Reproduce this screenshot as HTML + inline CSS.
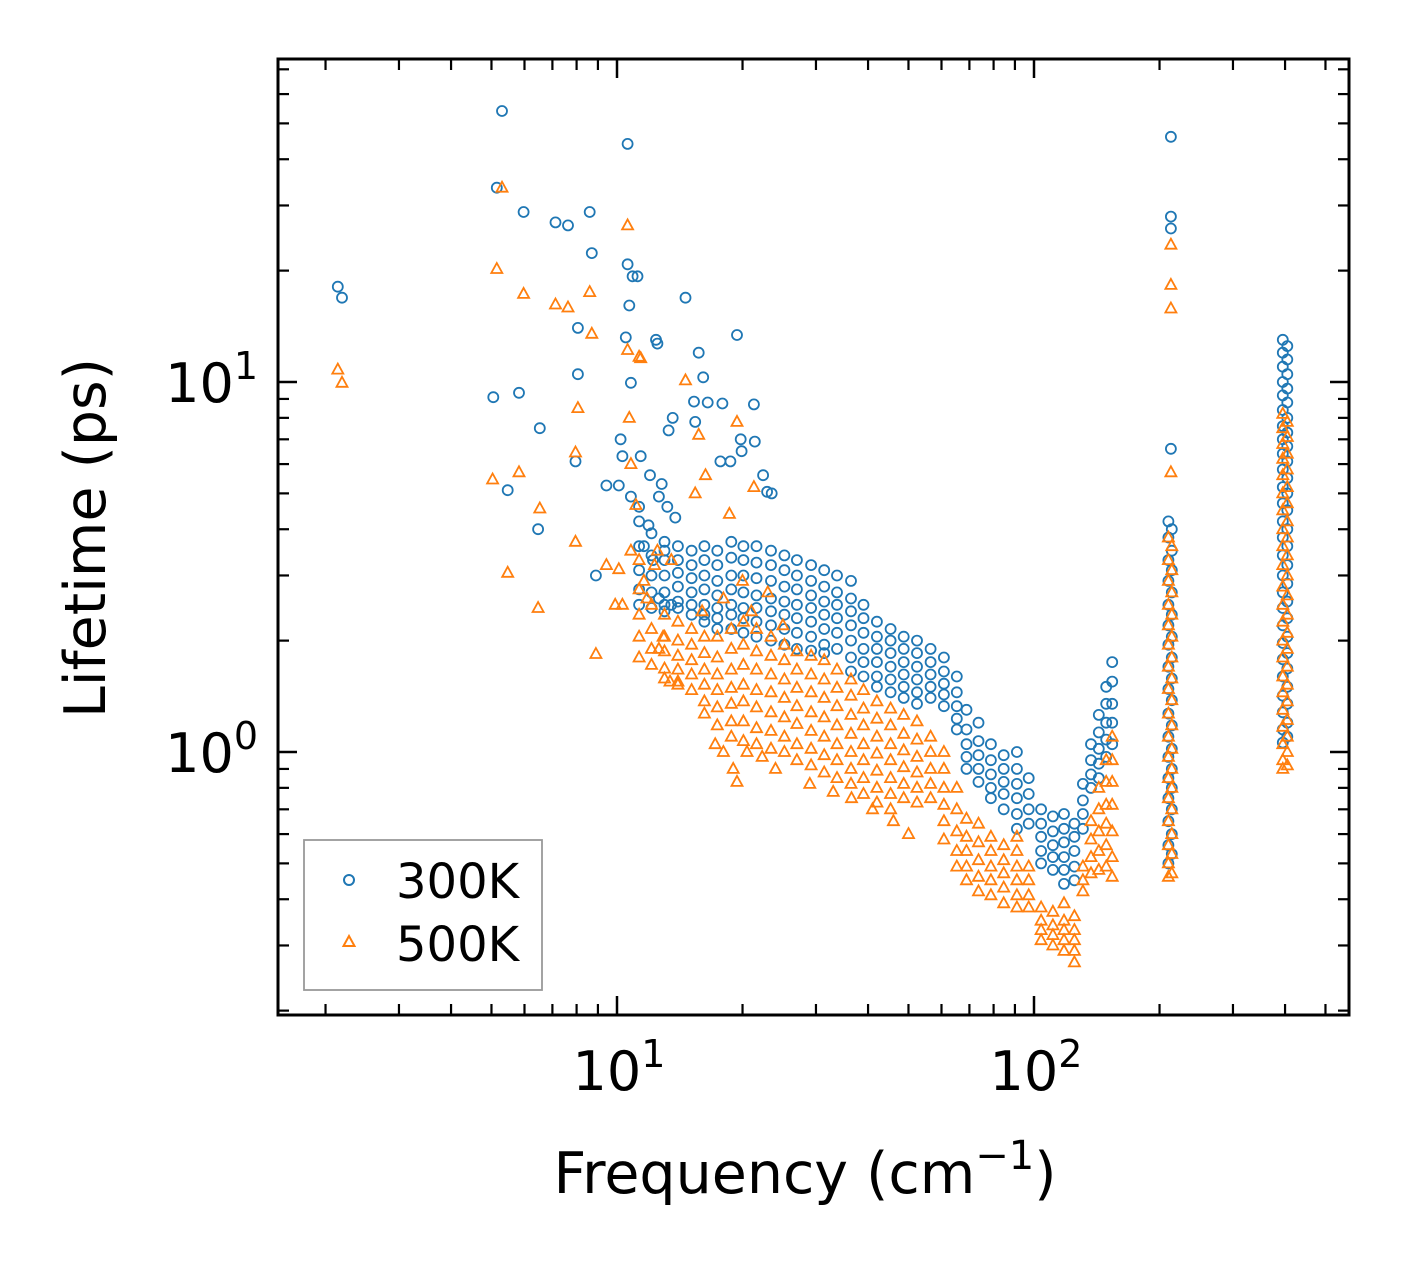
<!DOCTYPE html>
<html><head><meta charset="utf-8"><style>
html,body{margin:0;padding:0;background:#fff;}
svg{display:block;font-family:"DejaVu Sans","Liberation Sans",sans-serif;}
</style></head><body>
<svg id="chart" width="1408" height="1265" viewBox="0 0 1408 1265" xmlns="http://www.w3.org/2000/svg">
<rect x="0" y="0" width="1408" height="1265" fill="#fff"/>
<g id="marks"></g>
<g id="axes"></g>
<text x="805" y="1193" font-size="57" text-anchor="middle">Frequency (cm<tspan dy="-24" font-size="40">−1</tspan><tspan dy="24">)</tspan></text>
<text transform="translate(105,538) rotate(-90)" font-size="57" text-anchor="middle">Lifetime (ps)</text>
<g>
<rect x="304" y="840" width="238" height="150" fill="#fff" stroke="#999" stroke-width="1.8"/>
<circle cx="349" cy="880" r="5" fill="none" stroke="#1f77b4" stroke-width="2"/>
<text x="396" y="898" font-size="48">300K</text>
<path d="M349,936 L354.5,946 L343.5,946 Z" fill="none" stroke="#ff7f0e" stroke-width="2"/>
<text x="396" y="961" font-size="48">500K</text>
</g>
</svg>
<script>
const blueColFreq = [11.3,12.1,13.0,14.0,15.1,16.2,17.4,18.8,20.1,21.6,23.4,25.2,27.0,29.2,31.4,33.7,36.4,39.0,42.0,45.3,48.7,52.4,56.5,60.8,65.3,68.9,73.6,78.8,84.6,91.0,97.1,104,111,118,125,131,137,143,149,154,210,214,395,405];
const blueColLife = [
[4.2,3.6,3.1,2.75,2.5],[3.9,3.4,3.0,2.7,2.45],[3.7,3.3,3.0,2.7,2.5,2.4],[3.6,3.3,3.05,2.8,2.55,2.45],
[3.5,3.2,2.95,2.7,2.5,2.35],[3.6,3.3,3.0,2.75,2.5,2.35,2.25],[3.5,3.2,2.9,2.65,2.45,2.3,2.15],[3.7,3.35,3.0,2.75,2.5,2.35,2.15],
[3.6,3.3,3.0,2.7,2.45,2.3,2.1],[3.6,3.25,2.95,2.65,2.45,2.25,2.05],[3.5,3.2,2.9,2.6,2.4,2.2,2.0],[3.4,3.1,2.8,2.55,2.35,2.15,1.95],
[3.3,3.0,2.75,2.5,2.3,2.1,1.9],[3.2,2.9,2.65,2.45,2.25,2.05,1.88],[3.1,2.8,2.55,2.35,2.15,1.95,1.85],[3.0,2.7,2.5,2.3,2.1,1.9],
[2.9,2.6,2.4,2.2,2.0,1.8,1.65],[2.5,2.3,2.1,1.9,1.75,1.6],[2.25,2.05,1.9,1.75,1.6,1.5],[2.15,2.0,1.85,1.7,1.57,1.45],
[2.05,1.9,1.75,1.62,1.5,1.4],[2.0,1.85,1.7,1.57,1.45,1.35],[1.9,1.75,1.62,1.5,1.4],[1.8,1.65,1.53,1.43,1.33],
[1.6,1.45,1.33,1.23,1.15],[1.3,1.15,1.05,0.97,0.9],[1.2,1.07,0.98,0.9,0.83],[1.05,0.95,0.87,0.8,0.75],
[0.98,0.9,0.83,0.77,0.7],[1.0,0.9,0.82,0.75,0.68,0.62],[0.85,0.77,0.7,0.64],[0.7,0.64,0.59,0.54,0.5],
[0.67,0.61,0.56,0.52,0.48],[0.68,0.62,0.57,0.52,0.48,0.44],[0.64,0.59,0.54,0.49,0.45],[0.82,0.74,0.68,0.62],
[1.05,0.95,0.87,0.8],[1.26,1.13,1.02,0.93,0.85],[1.5,1.35,1.2,1.08,0.97],[1.75,1.55,1.35,1.2,1.05],
[4.2,3.8,3.3,2.9,2.5,2.2,1.95,1.7,1.48,1.27,1.1,0.97,0.85,0.75,0.65,0.56,0.5],
[4.0,3.5,3.1,2.7,2.35,2.05,1.8,1.58,1.38,1.18,1.02,0.9,0.8,0.7,0.6,0.53],
[13,12,11,10,9.2,8.4,7.6,7.0,6.4,5.8,5.2,4.7,4.2,3.8,3.4,3.0,2.7,2.45,2.2,1.97,1.78,1.6,1.42,1.28,1.15,1.06],
[12.5,11.5,10.5,9.6,8.8,8.0,7.3,6.7,6.1,5.5,5.0,4.5,4.0,3.6,3.2,2.85,2.55,2.3,2.05,1.85,1.68,1.5,1.35,1.2,1.1]
];
const blueOutFreq = [2.14,2.19,5.3,5.15,5.05,5.47,5.82,5.97,6.53,6.47,7.12,7.63,8.06,8.06,7.95,8.6,8.7,8.9,9.43,10.1,10.6,10.6,10.9,11.2,10.7,10.5,10.8,10.2,10.3,12.4,12.5,15.7,14.6,19.4,16.1,15.3,16.5,17.9,15.4,13.6,13.3,17.7,18.7,19.8,21.3,19.9,21.4,22.9,23.5,22.4,12.0,11.4,12.8,13.2,11.3,12.6,13.8,11.6,12.2,13.0,10.8,11.9,13.5,12.6,213,213,213,213];
const blueOutLife = [18.1,16.9,54,33.5,9.1,5.1,9.35,28.8,7.5,4.0,27,26.5,14,10.5,6.1,28.8,22.3,3.0,5.25,5.25,44,20.8,19.3,19.3,16.1,13.2,9.95,7.0,6.3,13,12.7,12,16.9,13.4,10.3,8.85,8.8,8.75,7.8,8.0,7.4,6.1,6.1,7.0,8.7,6.5,6.9,5.05,5.0,5.6,5.6,6.3,5.3,4.6,4.6,4.9,4.3,3.6,3.3,3.5,4.9,4.1,2.5,2.6,6.6,26,28,46];

const orangeColFreq = blueColFreq;
const orangeColLife = [
[3.3,2.75,2.35,2.05,1.8],[2.5,2.15,1.9,1.72],[2.35,2.05,1.87,1.68,1.58],[2.25,2.0,1.82,1.67,1.52],
[2.15,1.95,1.77,1.62,1.47],[2.05,1.85,1.67,1.52,1.37,1.27],[2.05,1.8,1.62,1.47,1.32,1.18],[2.15,1.9,1.67,1.49,1.35,1.21,1.1],
[2.25,1.95,1.72,1.52,1.37,1.21,1.07],[2.15,1.87,1.67,1.47,1.32,1.16,1.05],[2.05,1.82,1.62,1.45,1.28,1.14,1.02],[1.95,1.77,1.57,1.4,1.24,1.1,1.0],
[1.87,1.67,1.49,1.33,1.19,1.05,0.95],[1.82,1.62,1.45,1.28,1.14,1.02,0.92],[1.77,1.57,1.4,1.24,1.1,0.98,0.88],[1.67,1.49,1.33,1.18,1.05,0.95,0.85],
[1.57,1.42,1.26,1.12,1.0,0.9,0.82],[1.47,1.31,1.18,1.05,0.95,0.85,0.77],[1.37,1.23,1.1,0.99,0.89,0.8,0.73],[1.31,1.18,1.05,0.95,0.85,0.77,0.7],
[1.26,1.12,1.01,0.91,0.82,0.75],[1.21,1.08,0.97,0.88,0.8,0.73],[1.1,1.0,0.9,0.82,0.75],[1.0,0.9,0.8,0.72,0.65,0.58],
[0.8,0.7,0.61,0.54,0.49],[0.66,0.59,0.54,0.49,0.45],[0.64,0.57,0.51,0.46,0.42],[0.59,0.54,0.49,0.45,0.41],
[0.56,0.51,0.47,0.43,0.39],[0.59,0.54,0.49,0.45,0.41,0.38],[0.49,0.45,0.41,0.38],[0.38,0.35,0.33,0.31],
[0.37,0.34,0.32,0.3],[0.39,0.35,0.33,0.31,0.29],[0.36,0.33,0.31,0.29,0.27],[0.49,0.45,0.42],
[0.65,0.58,0.52,0.47],[0.8,0.7,0.61,0.54,0.48],[0.95,0.83,0.72,0.64,0.56,0.49],[1.1,0.95,0.83,0.72,0.61,0.52,0.46],
[3.8,3.3,2.9,2.5,2.2,1.95,1.7,1.48,1.27,1.1,0.97,0.85,0.75,0.65,0.56,0.5,0.46],
[3.6,3.1,2.7,2.35,2.05,1.8,1.58,1.38,1.18,1.02,0.9,0.8,0.7,0.6,0.53,0.47],
[8.2,7.5,6.8,6.2,5.6,5.0,4.5,4.0,3.6,3.2,2.8,2.5,2.25,2.0,1.8,1.6,1.45,1.3,1.17,1.05,0.95,0.9],
[7.8,7.1,6.4,5.8,5.2,4.7,4.2,3.8,3.4,3.0,2.65,2.35,2.1,1.9,1.7,1.52,1.37,1.22,1.1,1.0,0.92]
];
const orangeOutFreq = [2.14,2.19,5.3,5.15,5.03,5.47,5.82,5.97,6.53,6.47,7.12,7.63,8.06,7.95,7.95,8.6,8.7,8.9,9.43,10.1,10.6,10.6,10.7,10.8,10.8,11.3,11.4,11.1,12.6,12.9,14.6,15.7,19.4,15.4,16.3,18.6,21.3,19.4,19.0,18.0,20.5,11.8,12.3,10.3,11.6,9.9,13.5,12.5,14.0,13.4,17.2,22.3,24.0,29,33,36.5,41,46,50,21,25,18,16,20,23,213,213,213,213];
const orangeOutLife = [10.8,9.95,33.5,20.2,5.45,3.05,5.7,17.3,4.55,2.45,16.2,15.9,8.5,6.45,3.7,17.5,13.5,1.84,3.2,3.12,26.5,12.2,8.0,6.0,3.5,11.7,11.6,4.65,1.9,2.05,10.1,7.2,7.8,5.0,5.6,4.4,5.2,0.83,0.9,1.0,1.0,2.6,3.2,2.5,2.9,2.5,3.3,3.5,1.55,1.55,1.05,0.97,0.9,0.82,0.78,0.75,0.7,0.65,0.6,2.4,2.2,2.6,2.4,2.9,2.7,5.7,15.8,18.3,23.5];

const xMajorTicks = [10,100];
const xMajorLabels = ["1","2"];
const xMinorTicks = [2,3,4,5,6,7,8,9,20,30,40,50,60,70,80,90,200,300,400,500];
const yMajorTicks = [1,10];
const yMajorLabels = ["0","1"];
const yMinorTicks = [0.2,0.3,0.4,0.5,0.6,0.7,0.8,0.9,2,3,4,5,6,7,8,9,20,30,40,50,60,70];

const L=278,R=1349,T=59,B=1015;
function X(f){return 617+417*(Math.log10(f)-1);}
function Y(t){return 752-370*Math.log10(t);}
const NS="http://www.w3.org/2000/svg";
const marks=document.getElementById('marks');
const axes=document.getElementById('axes');

function circle(f,t){
  const c=document.createElementNS(NS,'circle');
  c.setAttribute('cx',X(f).toFixed(1));c.setAttribute('cy',Y(t).toFixed(1));
  c.setAttribute('r','5');c.setAttribute('fill','none');c.setAttribute('stroke','#1f77b4');c.setAttribute('stroke-width','1.8');
  
  
  marks.appendChild(c);
}
function tri(f,t){
  const x=X(f),y=Y(t);
  const p=document.createElementNS(NS,'path');
  p.setAttribute('d',`M${x.toFixed(1)},${(y-6).toFixed(1)} L${(x+5.5).toFixed(1)},${(y+4).toFixed(1)} L${(x-5.5).toFixed(1)},${(y+4).toFixed(1)} Z`);
  p.setAttribute('fill','none');p.setAttribute('stroke','#ff7f0e');p.setAttribute('stroke-width','1.8');
  
  
  marks.appendChild(p);
}
blueColFreq.forEach((f,i)=>blueColLife[i].forEach(t=>circle(f,t)));
blueOutFreq.forEach((f,i)=>circle(f,blueOutLife[i]));
orangeColFreq.forEach((f,i)=>orangeColLife[i].forEach(t=>tri(f,t)));
orangeOutFreq.forEach((f,i)=>tri(f,orangeOutLife[i]));

function line(x1,y1,x2,y2,w,name){
  const l=document.createElementNS(NS,'line');
  l.setAttribute('x1',x1);l.setAttribute('y1',y1);l.setAttribute('x2',x2);l.setAttribute('y2',y2);
  l.setAttribute('stroke','#000');l.setAttribute('stroke-width',w);
  
  
  axes.appendChild(l);
}
const fr=document.createElementNS(NS,'rect');
fr.setAttribute('x',L);fr.setAttribute('y',T);fr.setAttribute('width',R-L);fr.setAttribute('height',B-T);
fr.setAttribute('fill','none');fr.setAttribute('stroke','#000');fr.setAttribute('stroke-width','3');


axes.appendChild(fr);
xMinorTicks.forEach(v=>{const x=X(v);line(x,B,x,B-11,2.2,'x-minor-tick');line(x,T,x,T+11,2.2,'x-minor-tick');});
xMajorTicks.forEach(v=>{const x=X(v);line(x,B,x,B-19,2.5,'x-major-tick');line(x,T,x,T+19,2.5,'x-major-tick');});
yMinorTicks.forEach(v=>{const y=Y(v);line(L,y,L+11,y,2.2,'y-minor-tick');line(R,y,R-11,y,2.2,'y-minor-tick');});
yMajorTicks.forEach(v=>{const y=Y(v);line(L,y,L+19,y,2.5,'y-major-tick');line(R,y,R-19,y,2.5,'y-major-tick');});
function label(x,y,exp,anchor,name){
  const t=document.createElementNS(NS,'text');
  t.setAttribute('x',x);t.setAttribute('y',y);t.setAttribute('font-size','54');t.setAttribute('text-anchor',anchor);
  t.innerHTML=`10<tspan dy="-23" font-size="38">${exp}</tspan>`;
  
  
  axes.appendChild(t);
}
xMajorTicks.forEach((v,i)=>label(X(v)+2,1090,xMajorLabels[i],'middle','x-tick-label'));
yMajorTicks.forEach((v,i)=>label(258,Y(v)+20,yMajorLabels[i],'end','y-tick-label'));
</script>
</body></html>
